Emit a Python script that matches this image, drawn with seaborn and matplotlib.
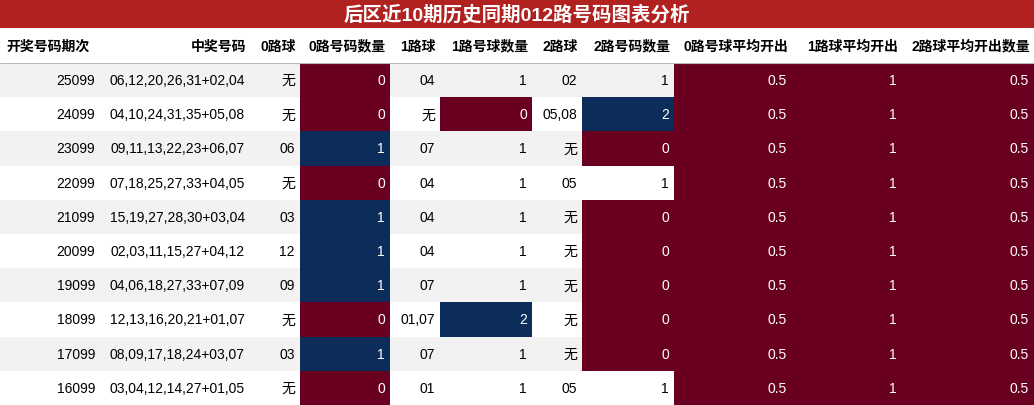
import numpy as np
import matplotlib
matplotlib.use("Agg")
import matplotlib.pyplot as plt
import seaborn as sns
from matplotlib.colors import LinearSegmentedColormap

sns.set_theme(style="white")
plt.rcParams['font.family'] = ['Liberation Sans', 'Noto Sans CJK SC', 'DejaVu Sans']

title = "后区近10期历史同期012路号码图表分析"
headers = ["开奖号码期次", "中奖号码", "0路球", "0路号码数量", "1路球", "1路号球数量",
           "2路球", "2路号码数量", "0路号球平均开出", "1路球平均开出", "2路球平均开出数量"]
periods = ["25099", "24099", "23099", "22099", "21099", "20099", "19099", "18099", "17099", "16099"]
numbers = ["06,12,20,26,31+02,04", "04,10,24,31,35+05,08", "09,11,13,22,23+06,07",
           "07,18,25,27,33+04,05", "15,19,27,28,30+03,04", "02,03,11,15,27+04,12",
           "04,06,18,27,33+07,09", "12,13,16,20,21+01,07", "08,09,17,18,24+03,07",
           "03,04,12,14,27+01,05"]
ball0 = ["无", "无", "06", "无", "03", "12", "09", "无", "03", "无"]
cnt0 = [0, 0, 1, 0, 1, 1, 1, 0, 1, 0]
ball1 = ["04", "无", "07", "04", "04", "04", "07", "01,07", "07", "01"]
cnt1 = [1, 0, 1, 1, 1, 1, 1, 2, 1, 1]
ball2 = ["02", "05,08", "无", "05", "无", "无", "无", "无", "无", "05"]
cnt2 = [1, 2, 0, 1, 0, 0, 0, 0, 0, 1]
avg0 = [0.5] * 10
avg1 = [1] * 10
avg2 = [0.5] * 10

xedges = [0, 100, 250, 300, 390, 440, 532, 582, 674, 792, 902, 1034]
W, H = 1034, 406
y_title, y_head = 29, 64
rh = (H - y_head) / 10
RED, BLUE = "#6a0020", "#0c2d5a"
cmap = LinearSegmentedColormap.from_list("rb", [RED, "#ffffff", BLUE])

fig = plt.figure(figsize=(W / 100, H / 100), dpi=100)
ax = fig.add_axes([0, 0, 1, 1])
ax.set_xlim(0, W); ax.set_ylim(H, 0); ax.axis("off")

ax.add_patch(plt.Rectangle((0, 0), W, y_title, color="#b0211f", lw=0))
ax.text(W / 2, y_title / 2, title, color="white", fontsize=14, fontweight="bold",
        ha="center", va="center")
for j, h in enumerate(headers):
    ax.text(xedges[j + 1] - 4 if j else xedges[0] + 6, (y_title + y_head) / 2, h,
            ha="right" if j else "left", va="center", fontsize=10, fontweight="bold", color="black")
ax.plot([0, W], [y_head, y_head], color="#bbbbbb", lw=0.8)

cols = [periods, numbers, ball0, cnt0, ball1, cnt1, ball2, cnt2, avg0, avg1, avg2]
numeric = {3, 5, 7, 8, 9, 10}
yedges = [y_head + rh * i for i in range(11)]
for i in range(10):
    bg = "#f2f2f2" if i % 2 == 0 else "#ffffff"
    ax.add_patch(plt.Rectangle((0, yedges[i]), W, rh, color=bg, lw=0))

for j in numeric:
    v = np.array(cols[j], dtype=float)
    lo, hi = v.min(), v.max()
    t = np.zeros_like(v) if hi == lo else (v - lo) / (hi - lo)
    masked = np.ma.masked_where((t > 0.01) & (t < 0.99), t).reshape(-1, 1)
    ax.pcolormesh([xedges[j], xedges[j + 1]], yedges, masked, cmap=cmap, vmin=0, vmax=1)
    for i in range(10):
        dark = masked.mask is np.False_ or not np.ma.getmaskarray(masked)[i, 0]
        txt = f"{cols[j][i]:g}"
        ax.text(xedges[j + 1] - 5, yedges[i] + rh / 2, txt, ha="right", va="center",
                fontsize=10, color="white" if dark else "black")
for j in range(11):
    if j in numeric:
        continue
    for i in range(10):
        ax.text(xedges[j + 1] - 5, yedges[i] + rh / 2, cols[j][i], ha="right", va="center",
                fontsize=10, color="black")

fig.savefig("out.png", dpi=100)
